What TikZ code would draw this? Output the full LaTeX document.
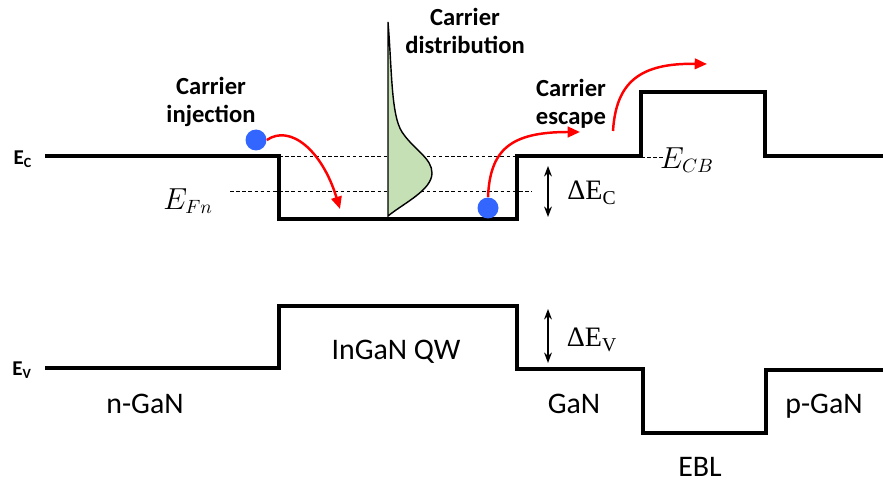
\documentclass[tikz,border=0pt]{standalone}
\usepackage{fontspec}
\setmainfont{Carlito}
\newfontfamily\tmsfont{Liberation Serif}
\usetikzlibrary{arrows.meta}
\definecolor{elblue}{RGB}{51,102,255}
\definecolor{dosgreen}{RGB}{197,224,180}
\tikzset{band/.style={line width=2.2pt,line join=miter},
 dsh/.style={dash pattern=on 2pt off 1.5pt,line width=0.5pt},
 hop/.style={red,line width=1.4pt,-{Triangle[length=7pt,width=6pt]}},
 dbl/.style={line width=0.7pt,{Stealth[length=6pt,width=4.5pt]}-{Stealth[length=6pt,width=4.5pt]}},
 tt/.style={align=center,font=\fontsize{14}{16}\selectfont\bfseries},
 lb/.style={font=\fontsize{17}{20}\selectfont},
 mt/.style={font=\fontsize{16}{18}\selectfont},
 dE/.style={font=\fontsize{16}{18}\selectfont\tmsfont},
 lv/.style={font=\fontsize{12}{14}\selectfont\bfseries},
 el/.style={circle,fill=elblue,minimum size=0.42cm,inner sep=0pt}}
\newcommand{\dEn}[1]{ΔE\textsubscript{#1}}

\begin{document}
\begin{tikzpicture}[x=0.02cm,y=-0.02cm]
\useasboundingbox (0,0) rectangle (883,486);
% band edges
\draw[band](45,156)--(279,156)--(279,219)--(517,219)--(517,156)--(641,156)--(641,92)--(765,92)--(765,156)--(883,156);
\draw[band](45,368)--(279,368)--(279,306)--(517,306)--(517,369)--(643,369)--(643,433)--(766,433)--(766,370)--(883,370);
\draw[dsh](279,156)--(517,156);\draw[dsh](230,191)--(532,191);\draw[dsh](641,157)--(663,157);
% carrier distribution
\filldraw[fill=dosgreen,line width=0.8pt](388,216)--(388,22) .. controls (392,70) and (391,115) .. (402,132) .. controls (414,150) and (432,158) .. (432,173) .. controls (432,190) and (404,203) .. (388,216)--cycle;
% carriers
\node[el](e1) at (256,140){};\node[el](e2) at (488,208){};
\coordinate(t1) at (340,209);\coordinate(t2) at (580,132);\coordinate(s3) at (613,131);\coordinate(t3) at (707,64);
\draw[hop](e1.east) .. controls (290,124) and (322,150) .. (t1);
\draw[hop](e2.north) .. controls (490,150) and (510,132) .. (t2);
\draw[hop](s3) .. controls (616,82) and (640,63) .. (t3);
% offsets
\coordinate(c1) at (548,166);\coordinate(c2) at (548,217);\draw[dbl](c1)--(c2);
\coordinate(v1) at (548,309);\coordinate(v2) at (548,363);\draw[dbl](v1)--(v2);
\node[dE](dec) at (592,193){\dEn{C}};\node[dE](dev) at (592,340){\dEn{V}};
% labels
\node[tt](inj) at (211,102){Carrier\\injection};\node[tt](dist) at (465,31){Carrier\\distribution};\node[tt](esc) at (571,104){Carrier\\escape};
\node[mt](efn) at (188,201){$E_{Fn}$};\node[mt](ecb) at (687,160){$E_{CB}$};
\node[lv](ec) at (23,159){E\textsubscript{C}};\node[lv](ev) at (22,370){E\textsubscript{V}};
\node[lb](ngan) at (145,404){n-GaN};\node[lb](qw) at (396,352){InGaN QW};\node[lb](gan) at (574,404){GaN};
\node[lb](ebl) at (700,467){EBL};\node[lb](pgan) at (824,406){p-GaN};
\end{tikzpicture}
\end{document}
